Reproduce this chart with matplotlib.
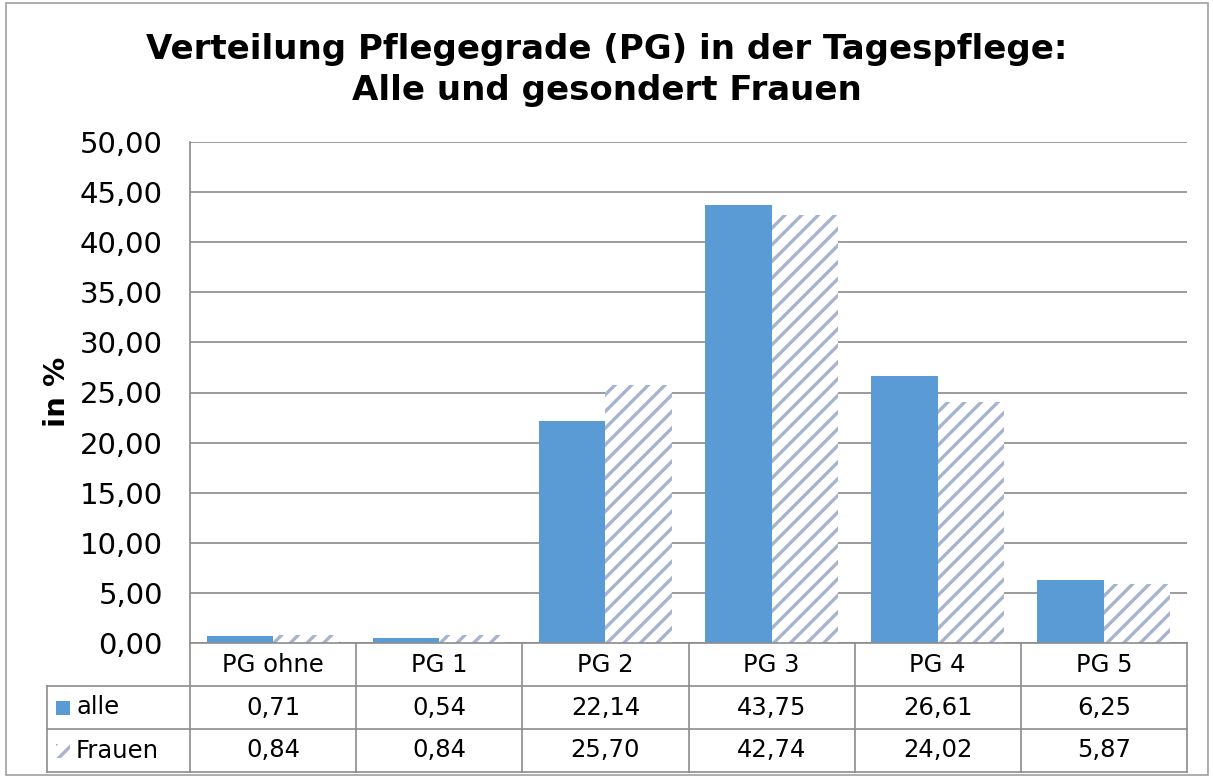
import matplotlib
matplotlib.use("Agg")
import matplotlib.pyplot as plt
import numpy as np
from matplotlib.lines import Line2D
from matplotlib.patches import Rectangle

categories = ["PG ohne", "PG 1", "PG 2", "PG 3", "PG 4", "PG 5"]
series_names = ["alle", "Frauen"]
alle = [0.71, 0.54, 22.14, 43.75, 26.61, 6.25]
frauen = [0.84, 0.84, 25.70, 42.74, 24.02, 5.87]
yticks = [0, 5, 10, 15, 20, 25, 30, 35, 40, 45, 50]
title = "Verteilung Pflegegrade (PG) in der Tagespflege:\nAlle und gesondert Frauen"
ylabel = "in %"

def de(v):
    return f"{v:.2f}".replace(".", ",")

plt.rcParams['font.family'] = ['DejaVu Sans']
plt.rcParams['hatch.linewidth'] = 2.4

W, H = 1213, 778
fig = plt.figure(figsize=(W / 100, H / 100), dpi=100)

def fx(px):
    return px / W

def fy(py):
    return 1 - py / H

# outer border
fig.add_artist(Rectangle((fx(6), fy(775)), fx(1208) - fx(6), fy(3) - fy(775),
                         transform=fig.transFigure, fill=False,
                         edgecolor="#A0A0A0", linewidth=1.2))

left, right, top, bottom = 190, 1187, 142, 643
ax = fig.add_axes([fx(left), fy(bottom), fx(right) - fx(left), fy(top) - fy(bottom)])

n = len(categories)
x = np.arange(n)
bw = 0.4
ax.bar(x - bw / 2, alle, width=bw, color="#5B9BD5", zorder=3)
ax.bar(x + bw / 2, frauen, width=bw, facecolor="white", edgecolor="#A7B4CE",
       linewidth=0, hatch="//", zorder=3)

ax.set_xlim(-0.5, n - 0.5)
ax.set_ylim(0, 50)
ax.set_yticks(yticks)
ax.set_yticklabels([de(v) for v in yticks], fontsize=21)
ax.tick_params(axis="y", length=0, pad=19.5)
ax.set_xticks([])
ax.grid(axis="y", color="#8A8A8A", linewidth=1.2, zorder=0)
for s in ["top", "right", "bottom"]:
    ax.spines[s].set_visible(False)
ax.spines["left"].set_color("#8A8A8A")
ax.spines["left"].set_linewidth(1.2)

fig.text(fx(57), fy(392), ylabel, rotation=90, ha="center", va="center",
         fontsize=21, fontweight="bold")

fig.text(0.5, fy(70), title, ha="center", va="center", fontsize=24.5,
         fontweight="bold", linespacing=1.28)

# data table
lc = "#8C8C8C"
rows = [643, 686, 729, 772]
tleft = 47
colw = (right - left) / n
cols = [left + k * colw for k in range(n + 1)]

def hline(y, x0, x1):
    fig.add_artist(Line2D([fx(x0), fx(x1)], [fy(y), fy(y)], transform=fig.transFigure,
                          color=lc, linewidth=1.2))

def vline(xp, y0, y1):
    fig.add_artist(Line2D([fx(xp), fx(xp)], [fy(y0), fy(y1)], transform=fig.transFigure,
                          color=lc, linewidth=1.2))

hline(rows[0], left, right)
for r in rows[1:]:
    hline(r, tleft, right)
vline(tleft, rows[1], rows[3])
for c in cols:
    vline(c, rows[0], rows[3])

fs = 17.5
for k, cat in enumerate(categories):
    cx = (cols[k] + cols[k + 1]) / 2
    fig.text(fx(cx), fy((rows[0] + rows[1]) / 2), cat, ha="center", va="center", fontsize=fs)
    fig.text(fx(cx), fy((rows[1] + rows[2]) / 2), de(alle[k]), ha="center", va="center", fontsize=fs)
    fig.text(fx(cx), fy((rows[2] + rows[3]) / 2), de(frauen[k]), ha="center", va="center", fontsize=fs)

# legend keys in table
ky1 = (rows[1] + rows[2]) / 2
ky2 = (rows[2] + rows[3]) / 2
ks = 14
fig.add_artist(Rectangle((fx(56), fy(ky1 + ks / 2)), fx(ks), ks / H,
                         transform=fig.transFigure, facecolor="#5B9BD5", edgecolor="none"))
fig.add_artist(Rectangle((fx(56), fy(ky2 + ks / 2)), fx(ks), ks / H,
                         transform=fig.transFigure, facecolor="white", edgecolor="#A7B4CE",
                         linewidth=0, hatch="//"))
fig.text(fx(76), fy(ky1), series_names[0], ha="left", va="center", fontsize=fs)
fig.text(fx(76), fy(ky2), series_names[1], ha="left", va="center", fontsize=fs)

fig.savefig("out.png", dpi=100)
